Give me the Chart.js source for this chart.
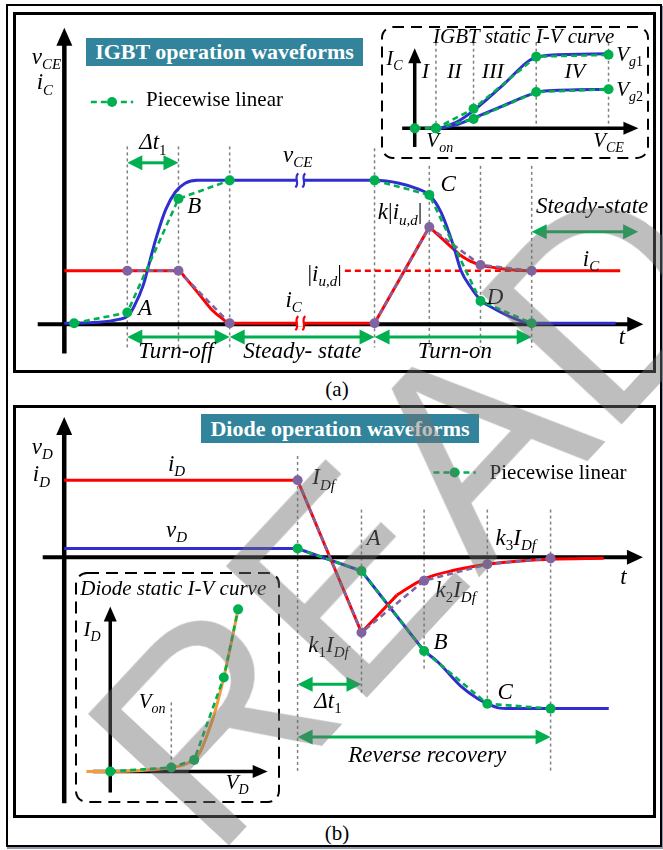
<!DOCTYPE html>
<html>
<head>
<meta charset="utf-8">
<title>IGBT and diode switching waveforms</title>
<script src="https://cdn.jsdelivr.net/npm/chart.js@4.4.1/dist/chart.umd.min.js"></script>
<style>
  html, body { margin: 0; padding: 0; background: #fff; }
  #page { position: relative; width: 663px; height: 850px; overflow: hidden; background: #fff; }
  canvas { position: absolute; z-index: 1; }
  .frame { position: absolute; box-sizing: border-box; }
  .title { position: absolute; z-index: 2; background: #31849B; color: #fff; text-align: center;
           font: bold 22px "Liberation Serif", "Times New Roman", serif; white-space: nowrap; }
  .cap { position: absolute; left: 300px; width: 74px; text-align: center; line-height: 22px;
         font: 21px "Liberation Serif", "Times New Roman", serif; }
  #mark { position: absolute; z-index: 5; left: 408px; top: 512px; pointer-events: none;
          transform: translate(-50%, -50%) rotate(-47deg); white-space: nowrap; line-height: 1;
          font: 280px "Liberation Sans", Arial, sans-serif; color: rgba(110, 110, 110, 0.45); }
</style>
</head>
<body>
<div id="page">
  <div class="frame" style="left:6px;top:4px;width:656px;height:843px;border:2px solid #000;box-shadow:1px 2px 0 #9097a8;"></div>
  <div class="frame" style="left:13px;top:12px;width:643px;height:361px;border:3px solid #000;"></div>
  <div class="frame" style="left:13px;top:405px;width:643px;height:413px;border:3px solid #000;"></div>
  <div class="cap" style="top:377px;">(a)</div>
  <div class="cap" style="top:821px;">(b)</div>

  <canvas id="igbtMain"></canvas>
  <canvas id="igbtStatic"></canvas>
  <canvas id="diodeMain"></canvas>
  <canvas id="diodeStatic"></canvas>

  <div class="title" style="left:86px;top:38px;width:277px;height:28px;line-height:28px;">IGBT operation waveforms</div>
  <div class="title" style="left:201px;top:414px;width:278px;height:29px;line-height:29px;">Diode operation waveforms</div>

  <div id="mark">READ</div>
</div>

<script>
// ---------------- Panel (a): IGBT turn-off / turn-on ----------------
// time in units of Δt1, amplitude in % of the blocking voltage V_CE
const igbtEvents = [1, 2, 3, 5.83, 6.9, 7.9, 8.9];
const igbtVce = [[-0.23, 0.7], [0.44, 1.4], [0.83, 3.4], [1.0, 5.4], [1.13, 12.2], [1.31, 27.0], [1.44, 43.9],
                 [1.56, 59.5], [1.75, 79.7], [1.94, 91.9], [2.13, 98.0], [2.37, 100], [5.83, 100], [6.31, 98.0],
                 [6.69, 93.9], [6.9, 89.9], [7.13, 77.7], [7.37, 54.7], [7.52, 37.2], [7.71, 25.7], [7.9, 16.9],
                 [8.17, 10.8], [8.56, 4.1], [8.9, 0.7], [10.54, 0.7]];
const igbtIcOff = [[-0.23, 37.2], [2.0, 37.2], [2.13, 32.4], [2.40, 21.0], [2.65, 10.1], [2.85, 4.1], [3.0, 0.7], [5.83, 0.7]];
const igbtIcOn = [[5.83, 0.7], [6.9, 67.6], [7.5, 48.0]];
const igbtIcSettle = [[7.5, 48.0], [7.7, 43.9], [7.9, 41.2], [8.2, 39.2], [8.48, 37.9], [8.9, 37.2], [10.63, 37.2]];
const igbtVcePwl = [[-0.04, 0.7], [1, 8.1], [2, 87.2], [3, 100], [4.4, null], [5.83, 100], [6.9, 89.9], [7.9, 16.2], [8.9, 0.7]];
const igbtIcPwl = [[1, 37.2], [2, 37.2], [3, 0.7], [4.4, null], [5.83, 0.7], [6.9, 67.6], [7.9, 41.2], [8.9, 37.2]];
const igbtIud = [[5.25, 37.2], [8.9, 37.2]];

// IGBT static I-V characteristic (V_CE, I_C), two gate voltages
const staticRegions = [1.1, 3.05, 6.3, 10.05];
const icVg1 = [[1.3, 0], [2.2, 0.7], [3.05, 1.9], [4.6, 4.7], [5.95, 7.3], [6.3, 7.6], [6.95, 7.85], [10.05, 8.0]];
const icVg2 = [[1.3, 0], [2.2, 0.4], [3.05, 1.1], [4.45, 2.3], [5.95, 3.6], [6.7, 4.0], [10.05, 4.2]];
const icVg1Pwl = [[0, 0], [1.1, 0], [3.05, 2.1], [6.3, 7.7], [10.05, 7.9]];
const icVg2Pwl = [[1.1, 0], [3.05, 1.0], [6.3, 3.9], [10.05, 4.2]];

// ---------------- Panel (b): diode reverse recovery ----------------
// time in units of Δt1, amplitude in units of the forward current I_Df
const diodeEvents = [0, 1.01, 2, 3, 4];
const diodeId = [[-3.69, 1], [0, 1], [1.01, -0.975], [1.57, -0.49]];
const diodeIdTail = [[1.57, -0.49], [2.0, -0.278], [2.49, -0.165], [3.0, -0.089], [3.47, -0.05], [4.0, -0.025], [4.84, -0.013]];
const diodeVd = [[-3.69, 0.114], [0, 0.114], [1.01, -0.177], [2.0, -1.215]];
const diodeVdTail = [[2.0, -1.215], [2.23, -1.367], [2.58, -1.671], [2.85, -1.835], [3.0, -1.899], [3.16, -1.949], [3.36, -1.962], [4.92, -1.962]];
const diodeIdPwl = [[0, 1], [1.01, -0.975], [2, -0.304], [3, -0.089], [4, -0.013]];
const diodeVdPwl = [[0, 0.114], [1.01, -0.177], [2, -1.215], [3, -1.899], [4, -1.962]];

// diode static I-V characteristic (V_D in volts, I_D)
const diodeVon = 0.7;
const diodeIv = [[-0.273, 0], [0, 0], [0.361, 0.1], [0.70, 0.4], [0.875, 0.8], [1.017, 1.8], [1.127, 4.2],
                 [1.203, 6.3], [1.302, 9.8], [1.378, 13.0], [1.466, 16.9]];
const diodeIvPwl = [[0, 0], [0.70, 0.4], [0.9625, 1.2], [1.302, 9.8], [1.466, 16.9]];

// ---------------- styling ----------------
const SERIF = '"Liberation Serif", "Times New Roman", Times, serif';
const GREEN = '#00B050', BLUE = '#2F2FCF', RED = '#FF0000', PURPLE = '#8064A2',
      GRID = '#808080', ORANGE = '#F79A3A';

const pts = a => a.map(([x, y]) => ({ x, y }));
const curve = (data, color, width, smooth, order) => ({
  data: pts(data), borderColor: color, backgroundColor: color, borderWidth: width,
  pointRadius: 0, fill: false, tension: 0, order,
  cubicInterpolationMode: smooth ? 'monotone' : 'default'
});
const pwl = (data, color, order) => ({
  data: pts(data), borderColor: color, backgroundColor: color, borderWidth: 2.6,
  borderDash: [6, 4], pointRadius: 5, pointBackgroundColor: color, pointBorderColor: color,
  pointBorderWidth: 0, fill: false, tension: 0, order
});

// rich text: parts = [[text, style]], style 'i' italic, 'r' roman, '…s' subscript
function rich(ctx, parts, x, y, align, size) {
  const sub = Math.round(size * 0.65);
  const fontOf = s => (s.indexOf('i') >= 0 ? 'italic ' : '') + (s.indexOf('s') >= 0 ? sub : size) + 'px ' + SERIF;
  let total = 0;
  const widths = parts.map(([t, s]) => { ctx.font = fontOf(s); const w = ctx.measureText(t).width; total += w; return w; });
  let cx = align === 'center' ? x - total / 2 : align === 'right' ? x - total : x;
  ctx.textAlign = 'left';
  ctx.textBaseline = 'middle';
  parts.forEach(([t, s], k) => {
    ctx.font = fontOf(s);
    ctx.fillText(t, cx, y + (s.indexOf('s') >= 0 ? size * 0.32 : 0));
    cx += widths[k];
  });
}

function arrowHead(ctx, tx, ty, dx, dy, len, half) {
  const bx = tx - dx * len, by = ty - dy * len;
  ctx.beginPath();
  ctx.moveTo(tx, ty);
  ctx.lineTo(bx - dy * half, by + dx * half);
  ctx.lineTo(bx + dy * half, by - dx * half);
  ctx.closePath();
  ctx.fill();
}

function axisLine(ctx, x1, y1, x2, y2, w, len, half) {
  const L = Math.hypot(x2 - x1, y2 - y1), dx = (x2 - x1) / L, dy = (y2 - y1) / L;
  ctx.setLineDash([]);
  ctx.lineWidth = w;
  ctx.strokeStyle = ctx.fillStyle = '#000';
  ctx.beginPath();
  ctx.moveTo(x1, y1);
  ctx.lineTo(x2 - dx * len * 0.8, y2 - dy * len * 0.8);
  ctx.stroke();
  arrowHead(ctx, x2, y2, dx, dy, len, half);
}

function spanArrow(ctx, x1, x2, y) {
  ctx.setLineDash([]);
  ctx.lineWidth = 3;
  ctx.strokeStyle = ctx.fillStyle = GREEN;
  ctx.beginPath();
  ctx.moveTo(x1 + 10, y);
  ctx.lineTo(x2 - 10, y);
  ctx.stroke();
  arrowHead(ctx, x1, y, -1, 0, 15, 7.5);
  arrowHead(ctx, x2, y, 1, 0, 15, 7.5);
}

// annotation layer: guides, axes, frame below the traces; arrows, breaks, legend, text above
function overlay(spec) {
  return {
    id: 'overlay',
    beforeDatasetsDraw(chart) {
      const { ctx, chartArea: a } = chart;
      const X = v => chart.scales.x.getPixelForValue(v), Y = v => chart.scales.y.getPixelForValue(v);
      ctx.save();
      if (spec.frame) {
        ctx.strokeStyle = '#000';
        ctx.lineWidth = 2;
        ctx.setLineDash(spec.frame);
        ctx.beginPath();
        ctx.roundRect(a.left + 2, a.top + 2, a.right - a.left - 4, a.bottom - a.top - 4, 11);
        ctx.stroke();
      }
      ctx.strokeStyle = GRID;
      ctx.lineWidth = 1.5;
      ctx.setLineDash([3, 3]);
      (spec.guides || []).forEach(([t, top, bot]) => {
        ctx.beginPath();
        ctx.moveTo(X(t), Y(top));
        ctx.lineTo(X(t), Y(bot));
        ctx.stroke();
      });
      (spec.axes || []).forEach(([x1, y1, x2, y2, w, len, half]) => axisLine(ctx, X(x1), Y(y1), X(x2), Y(y2), w, len, half));
      ctx.restore();
    },
    afterDatasetsDraw(chart) {
      const { ctx } = chart;
      const X = v => chart.scales.x.getPixelForValue(v), Y = v => chart.scales.y.getPixelForValue(v);
      ctx.save();
      (spec.breaks || []).forEach(([t, v, color]) => {
        const px = X(t), py = Y(v);
        ctx.fillStyle = '#fff';
        ctx.fillRect(px - 3.5, py - 3, 7, 6);
        ctx.strokeStyle = color;
        ctx.lineWidth = 2.2;
        ctx.setLineDash([]);
        [-3.5, 3.5].forEach(o => {
          ctx.beginPath();
          ctx.moveTo(px + o + 1.5, py - 7);
          ctx.bezierCurveTo(px + o - 3.5, py - 3, px + o + 3.5, py + 3, px + o - 1.5, py + 7);
          ctx.stroke();
        });
      });
      (spec.spans || []).forEach(([a, b, v]) => spanArrow(ctx, X(a), X(b), Y(v)));
      if (spec.legend) {
        const L = spec.legend, ly = Y(L.y);
        ctx.strokeStyle = ctx.fillStyle = GREEN;
        ctx.lineWidth = 2.6;
        ctx.setLineDash([6, 4]);
        ctx.beginPath();
        ctx.moveTo(X(L.x1), ly);
        ctx.lineTo(X(L.x2), ly);
        ctx.stroke();
        ctx.setLineDash([]);
        ctx.beginPath();
        ctx.arc((X(L.x1) + X(L.x2)) / 2, ly, 5, 0, Math.PI * 2);
        ctx.fill();
        ctx.fillStyle = '#000';
        ctx.font = '21px ' + SERIF;
        ctx.textAlign = 'left';
        ctx.textBaseline = 'middle';
        ctx.fillText(L.text, X(L.tx), Y(L.ty));
      }
      ctx.fillStyle = '#000';
      (spec.labels || []).forEach(([t, v, align, parts, size]) => rich(ctx, parts, X(t), Y(v), align, size || spec.size));
      ctx.restore();
    }
  };
}

function makeChart(id, box, datasets, spec) {
  const cv = document.getElementById(id);
  cv.width = box.w;
  cv.height = box.h;
  Object.assign(cv.style, { left: box.left + 'px', top: box.top + 'px', width: box.w + 'px', height: box.h + 'px' });
  return new Chart(cv, {
    type: 'line',
    data: { datasets },
    options: {
      responsive: false, animation: false, events: [],
      layout: { padding: 0 },
      plugins: { legend: { display: false }, tooltip: { enabled: false }, title: { display: false } },
      scales: {
        x: { type: 'linear', display: false, min: (box.left - box.ox) / box.sx, max: (box.left + box.w - box.ox) / box.sx },
        y: { type: 'linear', display: false, min: (box.oy - box.top - box.h) / box.sy, max: (box.oy - box.top) / box.sy }
      }
    },
    plugins: [overlay(spec)]
  });
}

// plot placement: canvas box, data origin and pixels per unit
const igbtBox = { left: 15, top: 14, w: 640, h: 358, ox: 72, sx: 52, oy: 328, sy: 1.48 };
const igbtStaticBox = { left: 375, top: 20, w: 280, h: 145, ox: 411, sx: 20, oy: 131, sy: 10 };
const diodeBox = { left: 15, top: 406, w: 640, h: 412, ox: 297, sx: 64.25, oy: 556, sy: 79 };
const diodeStaticBox = { left: 69, top: 566, w: 217, h: 243, ox: 107, sx: 91.43, oy: 775, sy: 10 };

const sub = (a, b, st) => [[a, 'i'], [b, st || 'is']];

// ---- (a) IGBT waveforms ----
makeChart('igbtMain', igbtBox, [
  pwl(igbtVcePwl, GREEN, 0),
  pwl(igbtIcPwl, PURPLE, 1),
  curve(igbtVce, BLUE, 3, true, 2),
  curve(igbtIcOff, RED, 3, true, 3),
  curve(igbtIcOn, RED, 3, false, 3),
  curve(igbtIcSettle, RED, 3, true, 3),
  Object.assign(curve(igbtIud, RED, 2.6, false, 4), { borderDash: [6, 4] })
], {
  size: 23,
  guides: igbtEvents.map((t, k) => [t, k < 3 ? 123.6 : (k === 3 ? 122.3 : 110.1), -16.2]),
  axes: [[-0.23, -20.3, -0.23, 206, 4.5, 18, 8], [-0.75, 0, 11.08, 0, 4, 16, 7.5]],
  spans: [[1, 2, 112.2], [1, 3, -8.8], [3, 5.83, -8.8], [5.83, 8.9, -8.8], [8.9, 10.98, 64.2]],
  breaks: [[4.38, 100, BLUE], [4.38, 0.7, RED]],
  legend: { x1: 0.288, x2: 1.115, y: 154.5, tx: 1.365, ty: 155.4, text: 'Piecewise linear' },
  labels: [
    [-0.865, 185.0, 'left', sub('v', 'CE')],
    [-0.77, 167.4, 'left', sub('i', 'C')],
    [1.5, 125.7, 'center', [['Δt', 'i'], ['1', 'rs']]],
    [1.21, 10.8, 'left', [['A', 'i']]],
    [2.17, 81.8, 'left', [['B', 'i']]],
    [7.12, 96.6, 'left', [['C', 'i']]],
    [8.02, 18.2, 'left', [['D', 'i']]],
    [4.33, 116.9, 'center', sub('v', 'CE')],
    [4.25, 16.2, 'center', sub('i', 'C')],
    [5.19, 34.5, 'right', [['|', 'r'], ['i', 'i'], ['u,d', 'is'], ['|', 'r']]],
    [6.33, 77.0, 'center', [['k', 'i'], ['|', 'r'], ['i', 'i'], ['u,d', 'is'], ['|', 'r']]],
    [10.06, 44.6, 'center', sub('i', 'C')],
    [10.08, 81.8, 'center', [['Steady-state', 'i']]],
    [10.6, -9.5, 'left', [['t', 'i']]],
    [1.95, -19.6, 'center', [['Turn-off', 'i']]],
    [4.42, -19.6, 'center', [['Steady- state', 'i']]],
    [7.40, -19.6, 'center', [['Turn-on', 'i']]]
  ]
});

makeChart('igbtStatic', igbtStaticBox, [
  pwl(icVg1Pwl, GREEN, 0),
  pwl(icVg2Pwl, GREEN, 1),
  curve(icVg1, BLUE, 3, true, 2),
  curve(icVg2, BLUE, 3, true, 3)
], {
  size: 21,
  frame: [11, 7],
  guides: staticRegions.map(v => [v, 9.2, -0.4]),
  axes: [[0, -2, 0, 8.6, 3.5, 15, 6.5], [-0.65, 0, 11.6, 0, 3.5, 15, 6.5]],
  labels: [
    [5.65, 9.8, 'center', [['IGBT static I-V curve', 'i']]],
    [-1.05, 7.4, 'center', sub('I', 'C')],
    [0.55, 6.0, 'center', [['I', 'i']], 22],
    [2.05, 6.0, 'center', [['II', 'i']], 22],
    [4.05, 6.0, 'center', [['III', 'i']], 22],
    [8.3, 6.0, 'center', [['IV', 'i']], 22],
    [1.3, -1.4, 'center', sub('V', 'on')],
    [10.05, -1.4, 'center', sub('V', 'CE')],
    [10.45, 7.8, 'left', [['V', 'i'], ['g', 'is'], ['1', 'rs']]],
    [10.45, 4.1, 'left', [['V', 'i'], ['g', 'is'], ['2', 'rs']]]
  ]
});

// ---- (b) diode waveforms ----
makeChart('diodeMain', diodeBox, [
  pwl(diodeIdPwl, PURPLE, 0),
  pwl(diodeVdPwl, GREEN, 1),
  curve(diodeId, RED, 3, false, 2),
  curve(diodeIdTail, RED, 3, true, 2),
  curve(diodeVd, BLUE, 3, false, 3),
  curve(diodeVdTail, BLUE, 3, true, 3)
], {
  size: 23,
  guides: diodeEvents.map((t, k) => [t, k === 0 ? 1.316 : 0.62, [-2.797, -1.785, -1.468, -1.949, -2.772][k]]),
  axes: [[-3.69, -3.19, -3.69, 1.82, 4.5, 18, 8], [-4.03, 0, 5.46, 0, 4, 16, 7.5]],
  spans: [[0, 1.01, -1.646], [0, 4, -2.33]],
  legend: { x1: 2.148, x2: 2.817, y: 1.101, tx: 3.035, ty: 1.089, text: 'Piecewise linear' },
  labels: [
    [-4.202, 1.418, 'left', sub('v', 'D')],
    [-4.187, 1.063, 'left', sub('i', 'D')],
    [-1.914, 1.203, 'center', sub('i', 'D')],
    [-1.914, 0.342, 'center', sub('v', 'D')],
    [0.233, 1.025, 'left', sub('I', 'Df')],
    [1.09, 0.24, 'left', [['A', 'i']]],
    [3.13, 0.24, 'left', [['k', 'i'], ['3', 'rs'], ['I', 'i'], ['Df', 'is']]],
    [2.18, -0.43, 'left', [['k', 'i'], ['2', 'rs'], ['I', 'i'], ['Df', 'is']]],
    [0.17, -1.152, 'left', [['k', 'i'], ['1', 'rs'], ['I', 'i'], ['Df', 'is']]],
    [2.15, -1.114, 'left', [['B', 'i']]],
    [3.16, -1.76, 'left', [['C', 'i']]],
    [0.48, -1.873, 'center', [['Δt', 'i'], ['1', 'rs']]],
    [2.05, -2.582, 'center', [['Reverse recovery', 'i']]],
    [5.1, -0.266, 'left', [['t', 'i']]]
  ]
});

makeChart('diodeStatic', diodeStaticBox, [
  pwl(diodeIvPwl, GREEN, 0),
  curve(diodeIv, ORANGE, 3, true, 1)
], {
  size: 21,
  frame: [12, 7],
  guides: [[diodeVon, 7.2, 0]],
  axes: [[0, -2.2, 0, 17.2, 3.5, 15, 6.5], [-0.2, 0, 1.805, 0, 3.5, 15, 6.5]],
  labels: [
    [0.722, 19.0, 'center', [['Diode static I-V curve', 'i']]],
    [-0.208, 14.7, 'center', sub('I', 'D')],
    [0.481, 7.2, 'center', sub('V', 'on')],
    [1.455, -1.3, 'center', sub('V', 'D')]
  ]
});
</script>
</body>
</html>
